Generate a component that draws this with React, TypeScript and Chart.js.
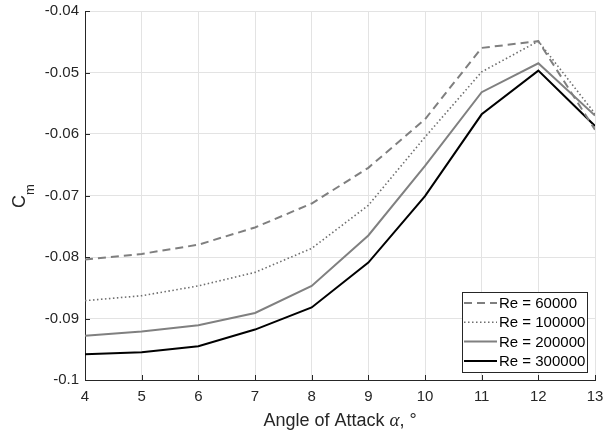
import React, { useEffect, useRef } from "react";
import { Chart, registerables } from "chart.js";

Chart.register(...registerables);

const angles = [4, 5, 6, 7, 8, 9, 10, 11, 12, 13];
const re60000 = [-0.0804, -0.0795, -0.0780, -0.0752, -0.0713, -0.0655, -0.0576, -0.0460, -0.0449, -0.0593];
const re100000 = [-0.0871, -0.0863, -0.0847, -0.0825, -0.0786, -0.0716, -0.0605, -0.0499, -0.0449, -0.0567];
const re200000 = [-0.0928, -0.0921, -0.0911, -0.0891, -0.0847, -0.0765, -0.0652, -0.0532, -0.0485, -0.0570];
const re300000 = [-0.0958, -0.0955, -0.0945, -0.0918, -0.0882, -0.0809, -0.0701, -0.0568, -0.0497, -0.0587];
const seriesLabels = ["Re = 60000", "Re = 100000", "Re = 200000", "Re = 300000"];
const xTickValues = [4, 5, 6, 7, 8, 9, 10, 11, 12, 13];
const yTickValues = [-0.1, -0.09, -0.08, -0.07, -0.06, -0.05, -0.04];

const AXIS = "#262626";
const GRID = "#e3e3e3";
const FONT = "'Liberation Sans', Arial, Helvetica, sans-serif";

const styles = [
  { color: "#7f7f7f", dash: [8, 5], width: 2 },
  { color: "#6e6e6e", dash: [1.5, 2.5], width: 1.6 },
  { color: "#808080", dash: [], width: 2 },
  { color: "#000000", dash: [], width: 2 },
];

export default function App() {
  const ref = useRef<HTMLCanvasElement>(null);

  useEffect(() => {
    const allSeries = [re60000, re100000, re200000, re300000];

    const decor = {
      id: "matlabDecor",
      afterDraw(chart: any) {
        const ctx = chart.ctx as CanvasRenderingContext2D;
        const area = chart.chartArea;
        const xs = chart.scales.x;
        const ys = chart.scales.y;
        ctx.save();
        // inward ticks
        ctx.strokeStyle = AXIS;
        ctx.lineWidth = 1;
        ctx.beginPath();
        xTickValues.forEach((v) => {
          const px = Math.round(xs.getPixelForValue(v)) + 0.5;
          ctx.moveTo(px, area.bottom);
          ctx.lineTo(px, area.bottom - 5);
        });
        yTickValues.forEach((v) => {
          const py = Math.round(ys.getPixelForValue(v)) + 0.5;
          ctx.moveTo(area.left, py);
          ctx.lineTo(area.left + 5, py);
        });
        ctx.stroke();

        // legend
        const lx = 462, ly = 292, lw = 125, lh = 80;
        ctx.fillStyle = "#ffffff";
        ctx.fillRect(lx, ly, lw, lh);
        ctx.strokeStyle = AXIS;
        ctx.lineWidth = 1;
        ctx.strokeRect(lx + 0.5, ly + 0.5, lw, lh);
        ctx.font = `15px ${FONT}`;
        ctx.textBaseline = "middle";
        ctx.textAlign = "left";
        seriesLabels.forEach((lab, i) => {
          const cy = ly + 11 + i * 19.3;
          const st = styles[i];
          ctx.strokeStyle = st.color;
          ctx.lineWidth = st.width;
          ctx.setLineDash(st.dash);
          ctx.beginPath();
          ctx.moveTo(lx + 2, cy);
          ctx.lineTo(lx + 35, cy);
          ctx.stroke();
          ctx.setLineDash([]);
          ctx.fillStyle = "#000000";
          ctx.fillText(lab, lx + 37, cy + 1);
        });

        // x title
        const partA = "Angle of Attack ";
        const partB = "\u03b1";
        const partC = ", \u00b0";
        const fA = `18px ${FONT}`;
        const fB = `italic 19px 'Liberation Serif', 'DejaVu Serif', serif`;
        ctx.font = fA;
        const wA = ctx.measureText(partA).width;
        const wC = ctx.measureText(partC).width;
        ctx.font = fB;
        const wB = ctx.measureText(partB).width;
        const total = wA + wB + wC;
        const cx = (area.left + area.right) / 2;
        let x0 = cx - total / 2;
        const base = 426;
        ctx.fillStyle = AXIS;
        ctx.textBaseline = "alphabetic";
        ctx.font = fA;
        ctx.fillText(partA, x0, base);
        x0 += wA;
        ctx.font = fB;
        ctx.fillText(partB, x0, base);
        x0 += wB;
        ctx.font = fA;
        ctx.fillText(partC, x0, base);

        // y title C_m
        ctx.translate(25, 196);
        ctx.rotate(-Math.PI / 2);
        ctx.font = `18px ${FONT}`;
        const wCc = ctx.measureText("C").width;
        ctx.font = `13px ${FONT}`;
        const wM = ctx.measureText("m").width;
        const start = -(wCc + wM) / 2;
        ctx.font = `18px ${FONT}`;
        ctx.fillText("C", start, 0);
        ctx.font = `13px ${FONT}`;
        ctx.fillText("m", start + wCc, 9);
        ctx.restore();
      },
    };

    const chart = new Chart(ref.current as HTMLCanvasElement, {
      type: "line",
      data: {
        datasets: allSeries.map((s, i) => ({
          label: seriesLabels[i],
          data: angles.map((a, j) => ({ x: a, y: s[j] })),
          borderColor: styles[i].color,
          borderWidth: styles[i].width,
          borderDash: styles[i].dash,
          pointRadius: 0,
          fill: false,
          tension: 0,
        })),
      },
      options: {
        responsive: false,
        animation: false,
        devicePixelRatio: 1,
        layout: { padding: { left: 0, top: 11, right: 18, bottom: 0 } },
        plugins: { legend: { display: false }, tooltip: { enabled: false } },
        scales: {
          x: {
            type: "linear",
            min: 4,
            max: 13,
            afterBuildTicks: (s: any) => {
              s.ticks = xTickValues.map((v) => ({ value: v }));
            },
            afterFit: (s: any) => {
              s.height = 433 - 380;
              s.paddingLeft = 0;
              s.paddingRight = 0;
              s.paddingTop = 0;
              s.paddingBottom = 0;
            },
            ticks: {
              color: AXIS,
              font: { family: FONT, size: 15 },
              padding: 8,
              maxRotation: 0,
              autoSkip: false,
            },
            grid: { color: GRID, drawTicks: false, lineWidth: 1 },
            border: { display: true, color: AXIS, width: 1 },
          },
          y: {
            type: "linear",
            min: -0.1,
            max: -0.04,
            afterBuildTicks: (s: any) => {
              s.ticks = yTickValues.map((v) => ({ value: v }));
            },
            afterFit: (s: any) => {
              s.width = 85;
              s.paddingLeft = 0;
              s.paddingRight = 0;
              s.paddingTop = 0;
              s.paddingBottom = 0;
            },
            ticks: {
              color: AXIS,
              font: { family: FONT, size: 15 },
              padding: 6,
              autoSkip: false,
              callback: (v: any) => String(Number(Number(v).toFixed(2))),
            },
            grid: { color: GRID, drawTicks: false, lineWidth: 1 },
            border: { display: true, color: AXIS, width: 1 },
          },
        },
      },
      plugins: [decor],
    });
    return () => chart.destroy();
  }, []);

  return (
    <div style={{ position: "fixed", left: 0, top: 0, width: 613, height: 433, background: "#ffffff" }}>
      <canvas ref={ref} width={613} height={433} style={{ display: "block", width: 613, height: 433 }} />
    </div>
  );
}
